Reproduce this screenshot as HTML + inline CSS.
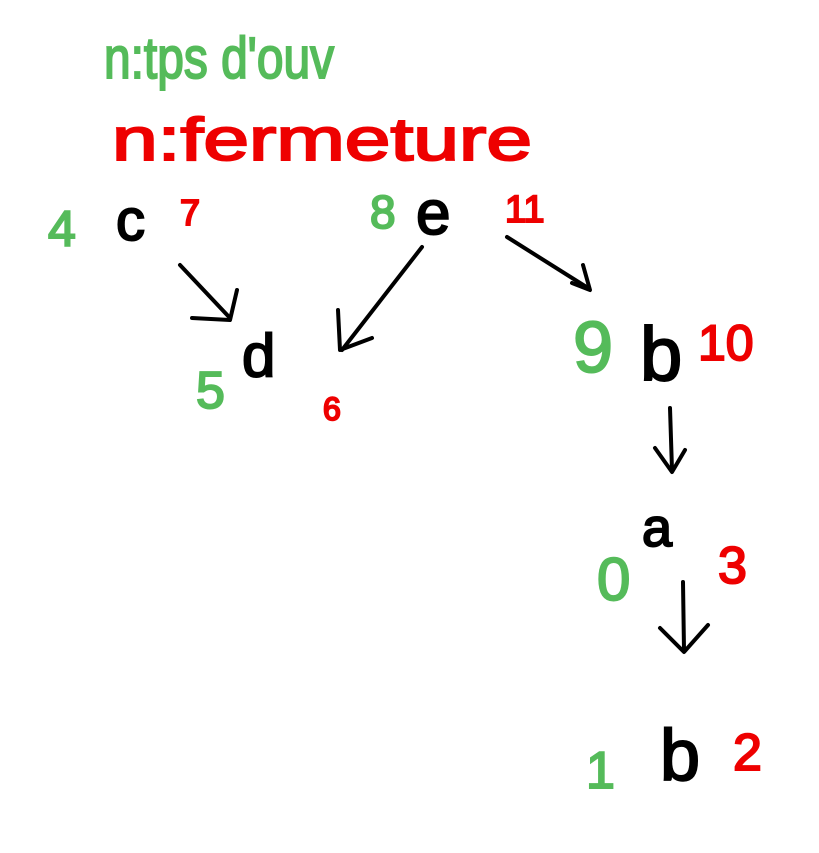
<!DOCTYPE html>
<html><head><meta charset="utf-8"><style>
html,body{margin:0;padding:0;background:#fff;}
svg{display:block;}
text{font-family:"Liberation Sans",sans-serif;}
</style></head><body>
<svg width="819" height="853" viewBox="0 0 819 853" xmlns="http://www.w3.org/2000/svg">
<g fill="#55bb5a" stroke="#55bb5a" stroke-width="2" font-size="46">
<text x="104" y="78" font-size="58" textLength="230" lengthAdjust="spacingAndGlyphs">n:tps d'ouv</text>
<text x="48" y="246" font-size="50">4</text>
<text x="370" y="228" font-size="46">8</text>
<text x="196" y="408" font-size="52">5</text>
<text x="573" y="372" font-size="72">9</text>
<text x="597" y="600" font-size="60">0</text>
<text x="586" y="788" font-size="52">1</text>
</g>
<g fill="#ee0000" stroke="#ee0000" stroke-width="2">
<text x="112" y="160" font-size="60" textLength="420" lengthAdjust="spacingAndGlyphs">n:fermeture</text>
<text x="180" y="225" font-size="36">7</text>
<text x="505" y="222" font-size="38">11</text>
<text x="323" y="420" font-size="32">6</text>
<text x="698" y="360" font-size="50">10</text>
<text x="718" y="583" font-size="52">3</text>
<text x="733" y="770" font-size="52">2</text>
</g>
<g fill="#000" stroke="#000" stroke-width="2">
<text x="116" y="240" font-size="58">c</text>
<text x="416" y="234" font-size="62">e</text>
<text x="242" y="376" font-size="60">d</text>
<text x="640" y="380" font-size="76">b</text>
<text x="642" y="546" font-size="54">a</text>
<text x="660" y="780" font-size="72">b</text>
</g>
<g stroke="#000" stroke-width="4" fill="none" stroke-linecap="round" stroke-linejoin="round">
<path d="M180 265 L230 318"/><path d="M192 318 L230 320 L237 290"/>
<path d="M422 247 L342 350"/><path d="M338 310 L340 350 L372 338"/>
<path d="M507 237 L588 288"/><path d="M572 283 L590 290 L583 265"/>
<path d="M670 408 L672 470"/><path d="M655 448 L672 472 L685 450"/>
<path d="M683 582 L684 650"/><path d="M660 628 L684 652 L708 625"/>
</g>
</svg>
</body></html>
